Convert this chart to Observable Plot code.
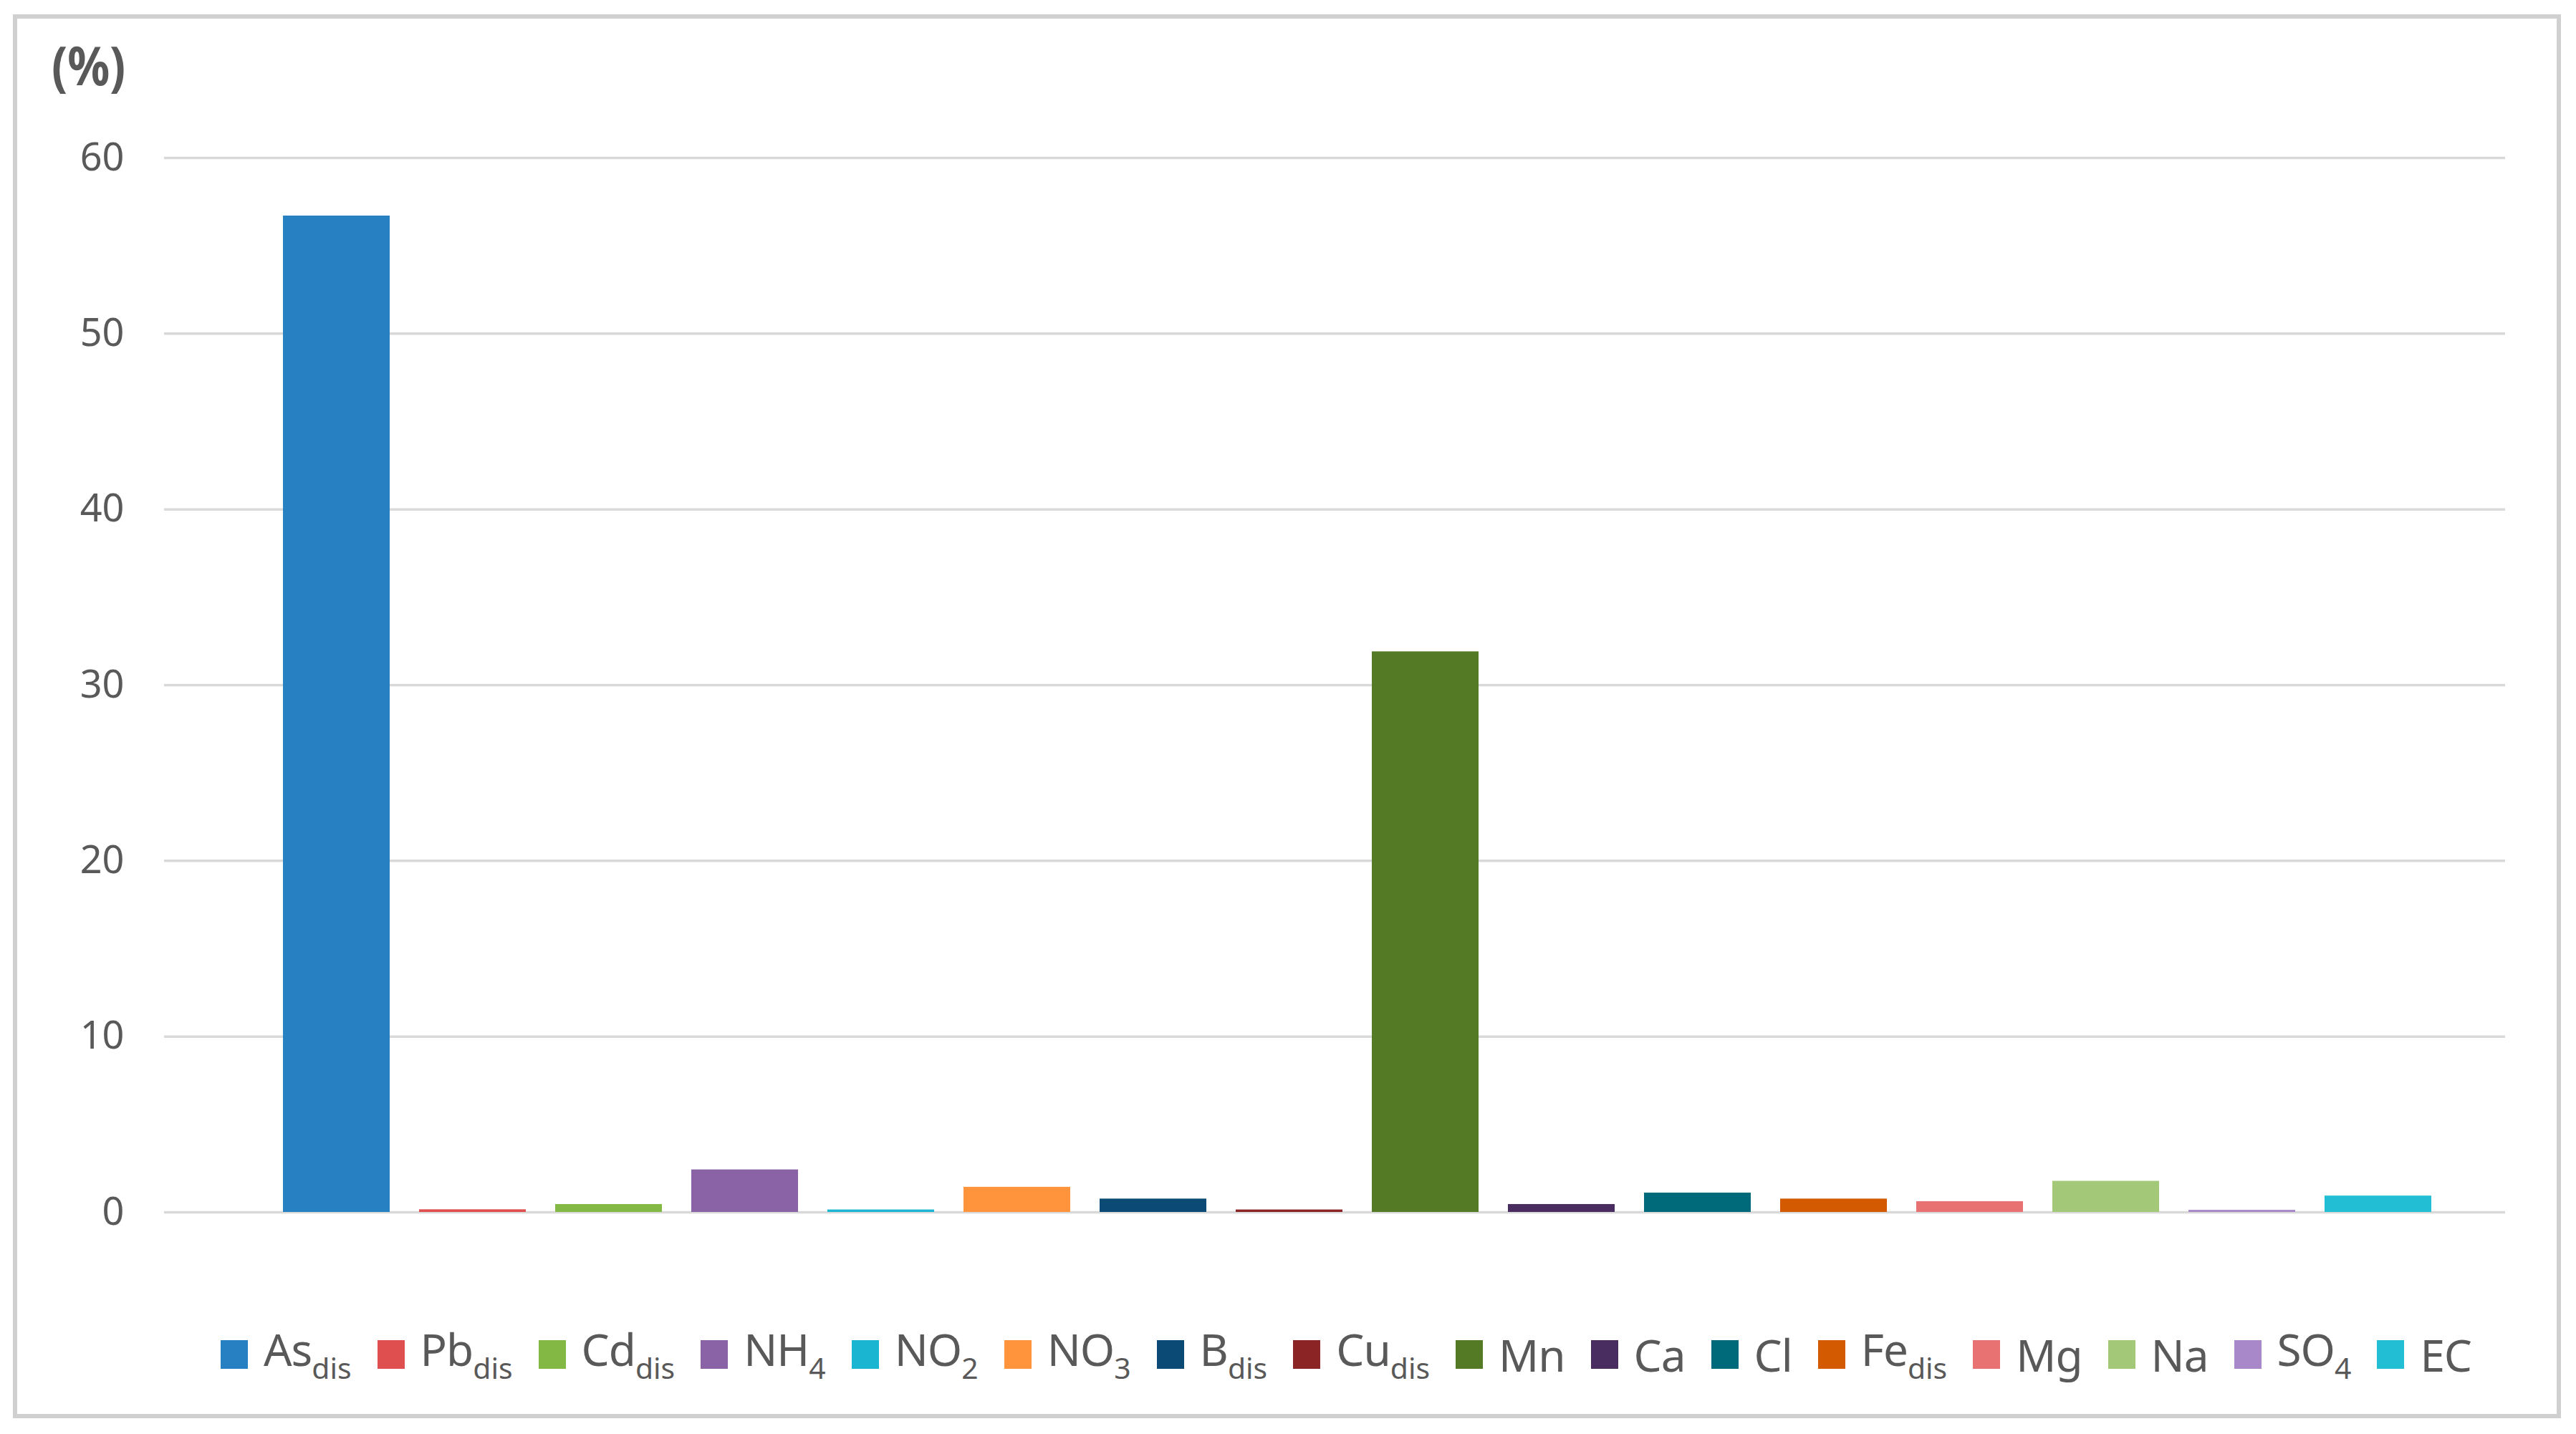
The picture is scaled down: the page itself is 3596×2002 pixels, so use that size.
<!DOCTYPE html>
<html>
<head>
<meta charset="utf-8">
<script src="https://cdn.jsdelivr.net/npm/d3@7"></script>
<script src="https://cdn.jsdelivr.net/npm/@observablehq/plot@0.6"></script>
<style>
  html, body { margin: 0; padding: 0; background: #fff; }
  body { width: 3596px; height: 2002px; position: relative; overflow: hidden; font-family: "Noto Sans", "Open Sans", sans-serif; }
  #frame { position: absolute; left: 18px; top: 20px; width: 3557px; height: 1960px; border: 6px solid #d0d0d0; box-sizing: border-box; }
  #title { position: absolute; left: 72px; top: 38px; font-size: 76px; font-weight: bold; color: #595959; transform: scaleX(0.86); transform-origin: left top; }
  #chart { position: absolute; left: 0; top: 150px; }
  #legend { position: absolute; left: 0; top: 1852px; width: 3596px; display: flex; justify-content: center; align-items: center; padding-left: 162px; box-sizing: border-box; }
  .item { display: flex; align-items: center; margin: 0 18px; color: #595959; font-size: 62px; line-height: 1; letter-spacing: -1px; }
  .sw { width: 38px; height: 40px; margin-right: 22px; }
  .item sub { font-size: 0.66em; vertical-align: -0.45em; letter-spacing: 0; }
</style>
</head>
<body>
<div id="frame"></div>
<div id="title">(%)</div>
<div id="chart"></div>
<div id="legend"></div>
<script>
// Data
const keys = ["As", "Pb", "Cd", "NH4", "NO2", "NO3", "B", "Cu", "Mn", "Ca", "Cl", "Fe", "Mg", "Na", "SO4", "EC"];
const labelMain = ["As", "Pb", "Cd", "NH", "NO", "NO", "B", "Cu", "Mn", "Ca", "Cl", "Fe", "Mg", "Na", "SO", "EC"];
const labelSub = ["dis", "dis", "dis", "4", "2", "3", "dis", "dis", "", "", "", "dis", "", "", "4", ""];
const values = [56.7, 0.15, 0.45, 2.42, 0.14, 1.43, 0.76, 0.14, 31.9, 0.45, 1.1, 0.76, 0.61, 1.77, 0.12, 0.93];
const colors = ["#2680c2", "#df4f4f", "#84b844", "#8a62a6", "#1ab5d0", "#ff943c", "#0b4a74", "#8b2525",
                "#557a26", "#4a2d60", "#006a7a", "#d35a00", "#e87272", "#a3c877", "#a888c8", "#22bfd4"];
const yTicks = [0, 10, 20, 30, 40, 50, 60];

const data = keys.map((k, i) => ({key: k, value: values[i]}));

const W = 3596, H = 1600;
const chart = Plot.plot({
  width: W,
  height: H,
  marginLeft: 229,
  marginRight: W - 3497,
  marginTop: 70,
  marginBottom: 58,
  style: {fontFamily: "'Noto Sans', sans-serif", background: "transparent"},
  x: {domain: keys, range: [390, 3398], paddingInner: 0.218, paddingOuter: 0, axis: null},
  y: {domain: [0, 60], ticks: yTicks},
  color: {domain: keys, range: colors},
  marks: [
    Plot.ruleY(yTicks, {stroke: "#d9d9d9", strokeWidth: 3.5, strokeOpacity: 1}),
    Plot.barY(data, {x: "key", y: "value", fill: "key"}),
    Plot.axisY({ticks: yTicks, tickSize: 0, tickPadding: 56, fontSize: 54, fill: "#595959", label: null, tickFormat: d3.format("d")})
  ]
});
document.getElementById("chart").appendChild(chart);

// Legend
const legend = document.getElementById("legend");
keys.forEach((k, i) => {
  const it = document.createElement("div");
  it.className = "item";
  const sw = document.createElement("div");
  sw.className = "sw";
  sw.style.background = colors[i];
  it.appendChild(sw);
  const t = document.createElement("span");
  t.textContent = labelMain[i];
  if (labelSub[i]) {
    const s = document.createElement("sub");
    s.textContent = labelSub[i];
    t.appendChild(s);
  }
  it.appendChild(t);
  legend.appendChild(it);
});
</script>
</body>
</html>
